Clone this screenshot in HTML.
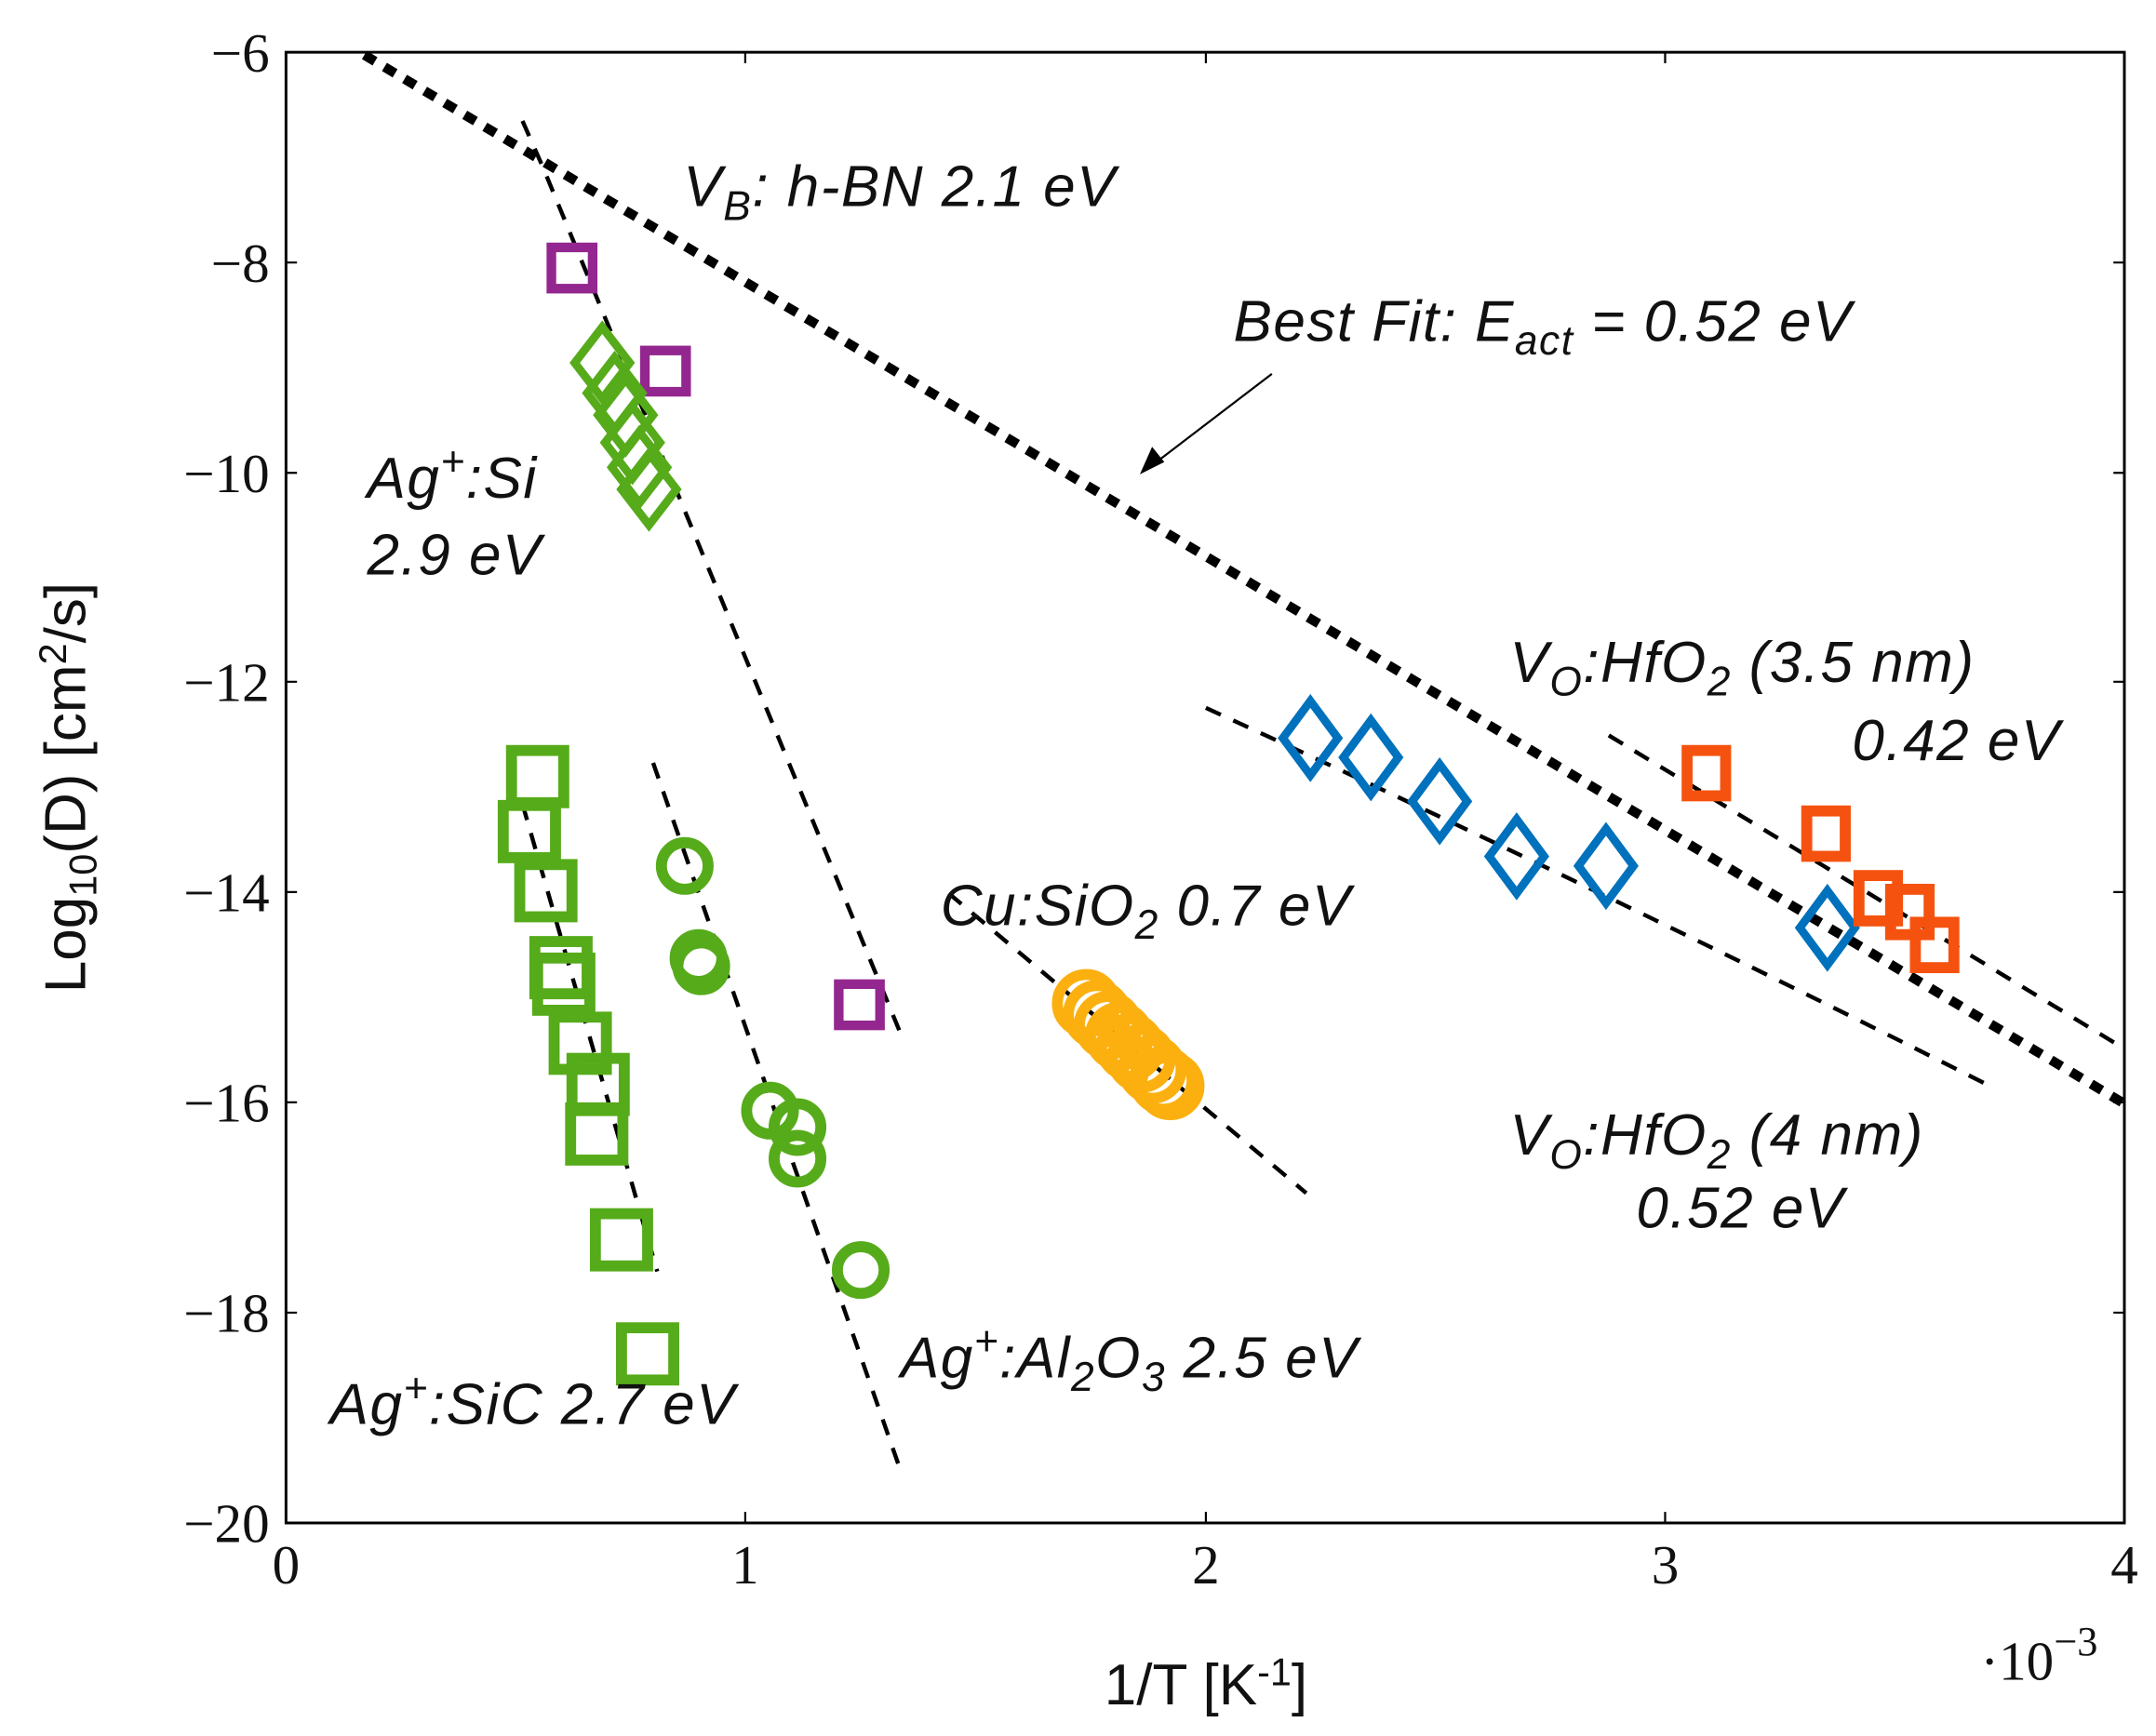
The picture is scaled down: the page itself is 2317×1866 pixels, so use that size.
<!DOCTYPE html>
<html><head><meta charset="utf-8"><style>html,body{margin:0;padding:0;background:#fff}svg{display:block}</style></head>
<body>
<svg width="2317" height="1866" viewBox="0 0 1568 1263" preserveAspectRatio="none" xmlns="http://www.w3.org/2000/svg" font-family="'Liberation Sans', sans-serif">
<rect width="1568" height="1263" fill="#fff"/>
<rect x="208" y="38" width="1337" height="1070" fill="none" stroke="#000" stroke-width="2"/>
<g stroke="#000" stroke-width="1.5">
<path d="M208 191h8M208 344h8M208 496h8M208 649h8M208 802h8M208 955h8"/>
<path d="M1545 191h-8M1545 344h-8M1545 496h-8M1545 649h-8M1545 802h-8M1545 955h-8"/>
<path d="M542 1108v-8M877 1108v-8M1211 1108v-8M542 38v8M877 38v8M1211 38v8"/>
</g>
<g font-family="'Liberation Serif', serif" font-size="40" text-anchor="end" fill="#111">
<text x="196" y="52">−6</text><text x="196" y="205">−8</text><text x="196" y="358">−10</text>
<text x="196" y="510">−12</text><text x="196" y="663">−14</text><text x="196" y="816">−16</text>
<text x="196" y="969">−18</text><text x="196" y="1122">−20</text>
</g>
<g font-family="'Liberation Serif', serif" font-size="40" text-anchor="middle" fill="#111">
<text x="208" y="1152">0</text><text x="542" y="1152">1</text><text x="877" y="1152">2</text>
<text x="1211" y="1152">3</text><text x="1545" y="1152">4</text>
<text x="1483" y="1222">·10<tspan dy="-18" font-size="30">−3</tspan></text>
</g>
<text x="877" y="1240" font-size="42" text-anchor="middle" fill="#111">1/T [K<tspan dy="-14" font-size="28">-1</tspan><tspan dy="14">]</tspan></text>
<text transform="translate(62,573) rotate(-90)" font-size="42" text-anchor="middle" fill="#111">Log<tspan font-size="28" dy="8">10</tspan><tspan dy="-8">(D) [cm</tspan><tspan dy="-14" font-size="28">2</tspan><tspan dy="14">/s]</tspan></text>

<g fill="none" stroke="#000">
<line x1="265" y1="40" x2="1545" y2="803" stroke-width="7" stroke-dasharray="9,8"/>
<path d="M380 88 L395 122 L655 752" stroke-width="3" stroke-dasharray="12,10"/>
<line x1="475" y1="555" x2="655" y2="1070" stroke-width="3" stroke-dasharray="12,10"/>
<line x1="380" y1="585" x2="478" y2="925" stroke-width="3" stroke-dasharray="12,10"/>
<line x1="690" y1="650" x2="950" y2="868" stroke-width="3" stroke-dasharray="12,10"/>
<path d="M877 515 Q1150 640 1447 790" stroke-width="3" stroke-dasharray="12,10"/>
<line x1="1170" y1="535" x2="1545" y2="763" stroke-width="3" stroke-dasharray="12,10"/>
<line x1="925" y1="272" x2="836" y2="340" stroke-width="1.5"/>
<path d="M830 344 L838 326 L846 336 Z" fill="#000"/>
</g>

<g fill="none" stroke="#93278f" stroke-width="7">
<rect x="401" y="180" width="30" height="30"/><rect x="469" y="255" width="30" height="30"/><rect x="610" y="716" width="30" height="30"/>
</g>
<g fill="none" stroke="#56ab1a" stroke-width="6">
<path d="M438 238l20 26-20 26-20-26z"/><path d="M447 260l20 26-20 26-20-26z"/><path d="M455 276l20 26-20 26-20-26z"/>
<path d="M460 296l20 26-20 26-20-26z"/><path d="M465 314l20 26-20 26-20-26z"/><path d="M472 330l20 26-20 26-20-26z"/>
</g>
<g fill="none" stroke="#56ab1a" stroke-width="8">
<rect x="372" y="546" width="38" height="38"/><rect x="366" y="586" width="38" height="38"/><rect x="378" y="629" width="38" height="38"/>
<rect x="389" y="685" width="38" height="38"/><rect x="391" y="697" width="38" height="38"/><rect x="403" y="740" width="38" height="38"/>
<rect x="416" y="770" width="38" height="38"/><rect x="415" y="806" width="38" height="38"/><rect x="433" y="883" width="38" height="38"/>
<rect x="452" y="966" width="38" height="38"/>
<circle cx="498" cy="630" r="17"/><circle cx="508" cy="697" r="17"/><circle cx="510" cy="703" r="17"/>
<circle cx="560" cy="808" r="17"/><circle cx="580" cy="820" r="17"/><circle cx="580" cy="843" r="17"/><circle cx="626" cy="924" r="17"/>
</g>
<g fill="none" stroke="#fbb010" stroke-width="8">
<circle cx="790" cy="730" r="21"/><circle cx="798" cy="738" r="21"/><circle cx="806" cy="746" r="21"/><circle cx="814" cy="754" r="21"/>
<circle cx="822" cy="762" r="21"/><circle cx="830" cy="770" r="21"/><circle cx="838" cy="778" r="21"/><circle cx="846" cy="786" r="21"/><circle cx="851" cy="790" r="21"/>
</g>
<g fill="none" stroke="#0071bc" stroke-width="6">
<path d="M953 510l20 27-20 27-20-27z"/><path d="M997 524l20 27-20 27-20-27z"/><path d="M1047 556l20 27-20 27-20-27z"/>
<path d="M1103 596l20 27-20 27-20-27z"/><path d="M1168 603l20 27-20 27-20-27z"/><path d="M1329 648l20 27-20 27-20-27z"/>
</g>
<g fill="none" stroke="#f5520f" stroke-width="8">
<rect x="1227" y="546" width="28" height="33"/><rect x="1314" y="590" width="28" height="33"/><rect x="1352" y="637" width="28" height="33"/>
<rect x="1375" y="647" width="28" height="33"/><rect x="1393" y="671" width="28" height="33"/>
</g>

<g font-size="42" font-style="italic" fill="#111" letter-spacing="1">
<text x="497" y="150">V<tspan font-size="30" dy="10">B</tspan><tspan dy="-10">: h-BN 2.1 eV</tspan></text>
<text x="897" y="248">Best Fit: E<tspan font-size="30" dy="10">act</tspan><tspan dy="-10"> = 0.52 eV</tspan></text>
<text x="267" y="362">Ag<tspan font-size="30" dy="-16">+</tspan><tspan dy="16">:Si</tspan></text>
<text x="267" y="418">2.9 eV</text>
<text x="1098" y="496">V<tspan font-size="30" dy="10">O</tspan><tspan dy="-10">:HfO</tspan><tspan font-size="30" dy="10">2</tspan><tspan dy="-10"> (3.5 nm)</tspan></text>
<text x="1347" y="553">0.42 eV</text>
<text x="684" y="673">Cu:SiO<tspan font-size="30" dy="10">2</tspan><tspan dy="-10"> 0.7 eV</tspan></text>
<text x="1098" y="840">V<tspan font-size="30" dy="10">O</tspan><tspan dy="-10">:HfO</tspan><tspan font-size="30" dy="10">2</tspan><tspan dy="-10"> (4 nm)</tspan></text>
<text x="1190" y="893">0.52 eV</text>
<text x="655" y="1002">Ag<tspan font-size="30" dy="-16">+</tspan><tspan dy="16">:Al</tspan><tspan font-size="30" dy="10">2</tspan><tspan dy="-10">O</tspan><tspan font-size="30" dy="10">3</tspan><tspan dy="-10"> 2.5 eV</tspan></text>
<text x="240" y="1036">Ag<tspan font-size="30" dy="-16">+</tspan><tspan dy="16">:SiC 2.7 eV</tspan></text>
</g>
</svg>
</body></html>
